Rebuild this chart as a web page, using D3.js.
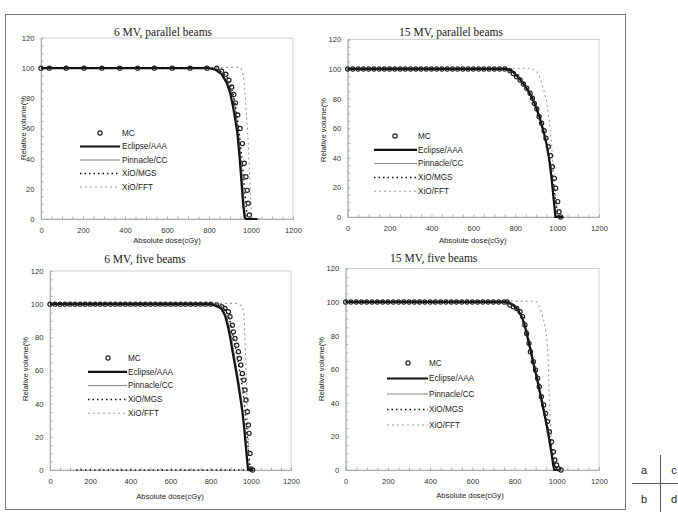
<!DOCTYPE html>
<html>
<head>
<meta charset="utf-8">
<script src="https://cdn.jsdelivr.net/npm/d3@7"></script>
<style>
  body { margin: 0; background: #fff; }
  text { font-family: "Liberation Sans", Arial, sans-serif; fill: #222; }
</style>
</head>
<body>
<div id="chart"></div>
<script>
// series names and tick labels
const seriesNames = ["MC", "Eclipse/AAA", "Pinnacle/CC", "XiO/MGS", "XiO/FFT"];
const xTickValues = [0, 200, 400, 600, 800, 1000, 1200];
const yTickValues = [0, 20, 40, 60, 80, 100, 120];
const keyLetters = ["a", "c", "b", "d"];

// (a) 6 MV, parallel beams  -- [dose cGy, volume %]
const mcA = [[0,100],[40,100],[120,100],[205,100],[290,100],[375,100],[460,100],[540,100],[625,100],[710,100],[790,100],
  [837,99.9],[860,98],[880,96],[895,92],[908,87.5],[918,82.5],[926,77],[937,69],[948,60],[959,50],[968,37],[976,28],[982,19],[987,10.4],[992,2.7]];
const eclipseA = [[0,100],[800,100],[830,99],[860,96],[885,90],[900,84],[915,74],[925,66],[935,57],[945,42],[955,24],[963,9],[970,1],[975,0],[1030,0]];
const pinnacleA = [[0,100],[810,100],[840,99],[870,95],[895,89],[912,82],[925,73],[937,62],[947,48],[957,30],[965,14],[972,4],[978,0],[1040,0]];
const mgsA = [[0,100],[830,100],[860,97.5],[885,94],[905,88],[920,80],[932,70],[943,58],[953,45],[963,30],[972,15],[980,4],[985,0]];
const fftA = [[0,100.5],[940,100.5],[955,99.5],[962,96],[968,90],[973,80],[978,70],[984,58],[990,40],[995,25],[999,12],[1003,3],[1008,0],[1030,0]];

// (c) 15 MV, parallel beams
const mcC = [[0,100],[25,100],[50,100],[75,100],[100,100],[125,100],[150,100],[175,100],[200,100],[225,100],[250,100],[275,100],[300,100],
  [325,100],[350,100],[375,100],[400,100],[425,100],[450,100],[475,100],[500,100],[525,100],[550,100],[575,100],[600,100],[625,100],
  [650,100],[675,100],[700,100],[725,100],[750,100],
  [775,98.9],[791,97],[807,94.8],[823,92.6],[839,89.9],[855,87],[871,83.6],[882,80.2],[891,76.8],[903,73],[914,67.8],[926,63.3],[938,58.3],
  [947,53.2],[958,47.5],[969,41.4],[977,34],[987,26.1],[993,19.4],[1003,10.4],[1009,3.6],[1017,0]];
const eclipseC = [[0,100],[760,100],[790,98],[820,93.5],[850,88],[875,82],[895,76],[915,68],[935,58],[950,49],[962,39],[972,28],[980,17],[987,7],[992,0],[1030,0]];
const pinnacleC = [[0,100],[765,100],[795,98],[825,93],[855,87],[880,81],[900,74],[920,66],[940,56],[955,46],[967,35],[977,23],[985,12],[992,4],[998,0],[1030,0]];
const mgsC = [[0,100],[770,100],[800,97.5],[830,92.5],[860,86],[885,79],[905,71],[925,62],[945,52],[960,43],[972,33],[983,22],[993,11],[1000,4],[1006,0]];
const fftC = [[0,100.5],[880,100.5],[903,98],[918,94],[934,87],[950,78],[958,70],[965,62],[972,52],[977,42],[983,30],[990,18],[998,8],[1005,2],[1010,0],[1030,0]];

// (b) 6 MV, five beams
const mcB = [[0,100],[25,100],[50,100],[75,100],[100,100],[125,100],[150,100],[175,100],[200,100],[225,100],[250,100],[275,100],[300,100],
  [325,100],[350,100],[375,100],[400,100],[425,100],[450,100],[475,100],[500,100],[525,100],[550,100],[575,100],[600,100],[625,100],
  [650,100],[675,100],[700,100],[725,100],[750,100],[775,100],[800,100],
  [830,99.6],[855,98.4],[871,97.4],[888,95.4],[896,92.4],[908,87.3],[913,83.3],[921,79.3],[930,75.3],[938,71.3],[943,67.3],[950,63.3],
  [958,58.2],[965,54.2],[971,48.2],[976,42.2],[983,35.1],[988,27.1],[991,22.1],[996,10],[1000,0.6],[1009,0]];
const eclipseB = [[0,100],[800,100],[830,99],[855,97],[872,93],[885,87],[897,80],[908,72],[920,64],[933,55],[946,45],[958,35],[968,24],[976,13],[982,5],[986,0],[1010,0]];
const pinnacleB = [[0,100],[805,100],[835,99],[860,97],[878,93],[892,87],[904,80],[915,72],[927,63],[940,54],[952,44],[963,34],[972,23],[980,12],[986,4],[990,0],[1010,0]];
const mgsB = [[0,100],[820,100],[850,98.5],[870,97],[885,94],[898,89],[910,82],[922,75],[935,67],[947,58],[958,50],[968,40],[977,28],[985,16],[992,6],[997,0],
  null, [130,0],[1000,0]];
const fftB = [[0,100.5],[930,100.5],[955,99],[963,96],[968,88],[972,75],[976,60],[980,45],[984,30],[988,15],[993,5],[1000,0],[1015,0]];

// (d) 15 MV, five beams
const mcD = [[0,100],[25,100],[50,100],[75,100],[100,100],[125,100],[150,100],[175,100],[200,100],[225,100],[250,100],[275,100],[300,100],
  [325,100],[350,100],[375,100],[400,100],[425,100],[450,100],[475,100],[500,100],[525,100],[550,100],[575,100],[600,100],[625,100],
  [650,100],[675,100],[700,100],[725,100],[750,100],[765,100],
  [778,98.2],[794,97.2],[810,96.2],[826,94.2],[838,91.3],[849,86.3],[857,81.3],[868,75.4],[875,70.4],[889,64.5],[899,59.5],[909,54.6],
  [917,49.6],[927,43.6],[938,38.7],[947,33.7],[956,28.8],[965,22.8],[975,16.8],[984,10.9],[991,6],[999,3],[1008,0.8],[1020,0]];
const eclipseD = [[0,100],[760,100],[790,98.5],[815,95.5],[835,91],[850,85],[863,78],[876,71],[890,63],[905,55],[920,46],[935,37],[950,28],[963,19],[975,10],[983,3],[988,0],[1010,0]];
const pinnacleD = [[0,100],[765,100],[795,98.5],[820,95],[840,90],[855,84],[868,77],[881,70],[895,62],[910,54],[925,45],[940,36],[955,27],[968,17],[979,8],[987,2],[992,0],[1015,0]];
const mgsD = [[0,100],[770,100],[800,98],[825,95],[845,89],[860,82],[873,74],[887,66],[900,59],[915,51],[930,42],[945,33],[960,24],[973,15],[985,7],[995,1],[1000,0]];
const fftD = [[0,100.5],[890,100.5],[905,100],[918,97],[930,93],[940,88],[950,81],[957,72],[960,62],[963,50],[966,38],[970,26],[976,15],[985,6],[995,1],[1005,0],[1020,0]];

const panels = [
  { title: "6 MV, parallel beams", mc: mcA, eclipse: eclipseA, pinnacle: pinnacleA, mgs: mgsA, fft: fftA,
    box: { left: 41, right: 293, top: 38, bottom: 219 }, titlePos: [163, 32], xTitlePos: [167, 240], yTitlePos: [23, 128],
    leg: { mx: 100, lx1: 80, lx2: 120, tx: 122, y0: 133, dy: 13.5 } },
  { title: "15 MV, parallel beams", mc: mcC, eclipse: eclipseC, pinnacle: pinnacleC, mgs: mgsC, fft: fftC,
    box: { left: 347.7, right: 599, top: 39.4, bottom: 217 }, titlePos: [451, 31.7], xTitlePos: [472.7, 240], yTitlePos: [323, 130],
    leg: { mx: 395, lx1: 374, lx2: 417, tx: 418, y0: 136, dy: 13.8 } },
  { title: "6 MV, five beams", mc: mcB, eclipse: eclipseB, pinnacle: pinnacleB, mgs: mgsB, fft: fftB,
    box: { left: 50, right: 291, top: 271, bottom: 470 }, titlePos: [145, 259], xTitlePos: [170, 496.7], yTitlePos: [25, 369],
    leg: { mx: 108, lx1: 88, lx2: 127, tx: 128, y0: 358, dy: 13.8 } },
  { title: "15 MV, five beams", mc: mcD, eclipse: eclipseD, pinnacle: pinnacleD, mgs: mgsD, fft: fftD,
    box: { left: 345.7, right: 599, top: 268.4, bottom: 470 }, titlePos: [433.7, 258], xTitlePos: [470, 495], yTitlePos: [321, 369],
    leg: { mx: 408, lx1: 387, lx2: 428, tx: 429, y0: 363, dy: 15.5 } }
];

const lineStyles = {
  eclipse: { stroke: "#111", width: 2.2, dash: null },
  pinnacle: { stroke: "#808080", width: 1, dash: null },
  mgs: { stroke: "#111", width: 1.5, dash: "1.5,3" },
  fft: { stroke: "#9a9a9a", width: 1.1, dash: "2,3" }
};

const svg = d3.select("#chart")
  .append("svg")
  .attr("width", 678)
  .attr("height", 518);

// outer frame
svg.append("rect")
  .attr("x", 5.5).attr("y", 14.5)
  .attr("width", 620).attr("height", 495)
  .attr("fill", "none")
  .attr("stroke", "#777")
  .attr("stroke-width", 1);

panels.forEach(p => {
  const x = d3.scaleLinear().domain([0, 1200]).range([p.box.left, p.box.right]);
  const y = d3.scaleLinear().domain([0, 120]).range([p.box.bottom, p.box.top]);
  const g = svg.append("g");

  // plot area border
  g.append("rect")
    .attr("x", p.box.left).attr("y", p.box.top)
    .attr("width", p.box.right - p.box.left)
    .attr("height", p.box.bottom - p.box.top)
    .attr("fill", "none")
    .attr("stroke", "#cfcfcf");

  // minor ticks
  g.append("g")
    .attr("transform", `translate(0,${p.box.bottom})`)
    .call(d3.axisBottom(x).ticks(24).tickSize(-2.5).tickFormat(""))
    .call(a => a.select(".domain").attr("stroke", "#aaa"))
    .call(a => a.selectAll(".tick line").attr("stroke", "#aaa"));
  g.append("g")
    .attr("transform", `translate(${p.box.left},0)`)
    .call(d3.axisLeft(y).ticks(24).tickSize(-2.5).tickFormat(""))
    .call(a => a.select(".domain").attr("stroke", "#aaa"))
    .call(a => a.selectAll(".tick line").attr("stroke", "#aaa"));

  // tick labels
  g.append("g")
    .attr("transform", `translate(0,${p.box.bottom})`)
    .call(d3.axisBottom(x).tickValues(xTickValues).tickFormat(d3.format("d")).tickSize(0).tickPadding(9))
    .call(a => a.select(".domain").remove())
    .selectAll("text").style("font-size", "7.6px").style("fill", "#333");
  g.append("g")
    .attr("transform", `translate(${p.box.left},0)`)
    .call(d3.axisLeft(y).tickValues(yTickValues).tickFormat(d3.format("d")).tickSize(0).tickPadding(6.5))
    .call(a => a.select(".domain").remove())
    .selectAll("text").style("font-size", "7.6px").style("fill", "#333");

  // titles
  g.append("text")
    .attr("x", p.titlePos[0]).attr("y", p.titlePos[1]).attr("dy", "0.35em")
    .attr("text-anchor", "middle")
    .style("font-family", "'Liberation Serif', 'Times New Roman', serif")
    .style("font-size", "11.5px")
    .text(p.title);
  g.append("text")
    .attr("x", p.xTitlePos[0]).attr("y", p.xTitlePos[1]).attr("dy", "0.35em")
    .attr("text-anchor", "middle")
    .style("font-size", "7.7px")
    .text("Absolute dose(cGy)");
  g.append("text")
    .attr("text-anchor", "middle")
    .attr("transform", `translate(${p.yTitlePos[0]},${p.yTitlePos[1]})rotate(-90)`)
    .attr("dy", "0.35em")
    .style("font-size", "7.7px")
    .text("Relative volume(%");

  const line = d3.line()
    .defined(d => d !== null)
    .x(d => x(d[0]))
    .y(d => y(d[1]));

  ["fft", "pinnacle", "mgs", "eclipse"].forEach(key => {
    const s = lineStyles[key];
    g.append("path")
      .datum(p[key])
      .attr("d", line)
      .attr("fill", "none")
      .attr("stroke", s.stroke)
      .attr("stroke-width", s.width)
      .attr("stroke-dasharray", s.dash);
  });

  g.append("g")
    .selectAll("circle")
    .data(p.mc)
    .join("circle")
    .attr("cx", d => x(d[0]))
    .attr("cy", d => y(d[1]))
    .attr("r", 2.1)
    .attr("fill", "none")
    .attr("stroke", "#222")
    .attr("stroke-width", 1.2);

  // Legend
  const L = p.leg;
  const legend = g.append("g");
  legend.append("circle")
    .attr("cx", L.mx).attr("cy", L.y0)
    .attr("r", 2.1).attr("fill", "none")
    .attr("stroke", "#222").attr("stroke-width", 1.2);
  ["eclipse", "pinnacle", "mgs", "fft"].forEach((key, i) => {
    const s = lineStyles[key];
    legend.append("line")
      .attr("x1", L.lx1).attr("x2", L.lx2)
      .attr("y1", L.y0 + (i + 1) * L.dy).attr("y2", L.y0 + (i + 1) * L.dy)
      .attr("stroke", s.stroke)
      .attr("stroke-width", s.width)
      .attr("stroke-dasharray", s.dash);
  });
  legend.selectAll("text")
    .data(seriesNames)
    .join("text")
    .attr("x", L.tx)
    .attr("y", (d, i) => L.y0 + i * L.dy)
    .attr("dy", "0.35em")
    .style("font-size", "8.2px")
    .text(d => d);
});

// a/b/c/d key
svg.append("line").attr("x1", 660.5).attr("x2", 660.5).attr("y1", 455).attr("y2", 512).attr("stroke", "#555");
svg.append("line").attr("x1", 632).attr("x2", 678).attr("y1", 483.5).attr("y2", 483.5).attr("stroke", "#555");
svg.selectAll(".key")
  .data(keyLetters)
  .join("text")
  .attr("class", "key")
  .attr("x", (d, i) => i % 2 === 0 ? 644 : 674)
  .attr("y", (d, i) => i < 2 ? 470 : 499)
  .attr("dy", "0.35em")
  .attr("text-anchor", "middle")
  .style("font-size", "11px")
  .text(d => d);
</script>
</body>
</html>
